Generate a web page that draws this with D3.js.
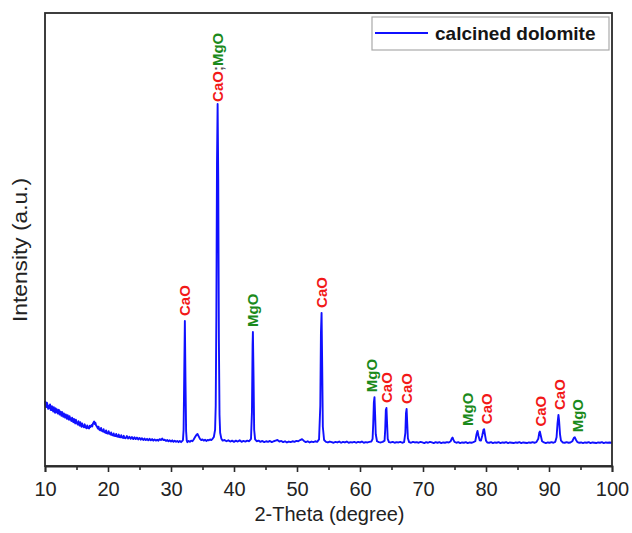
<!DOCTYPE html>
<html>
<head>
<meta charset="utf-8">
<script src="https://cdn.jsdelivr.net/npm/d3@7"></script>
<style>
  html, body { margin: 0; padding: 0; background: #fff; }
  svg { display: block; font-family: "Liberation Sans", Arial, sans-serif; }
</style>
</head>
<body>
<svg id="chart" width="632" height="533"></svg>
<script>
// XRD scan of calcined dolomite: [2-theta (deg), intensity (counts, a.u.)]
const scan = [
  [10.0,216],[10.1,200],[10.2,195],[10.3,210],[10.4,203],[10.5,189],[10.6,199],[10.7,192],[10.8,204],[10.9,186],
  [11.0,185],[11.1,198],[11.2,190],[11.3,180],[11.4,195],[11.5,184],[11.6,176],[11.7,191],[11.8,179],[11.9,187],
  [12.0,174],[12.2,186],[12.3,170],[12.4,181],[12.5,175],[12.6,166],[12.7,179],[12.8,172],[12.9,163],[13.0,174],
  [13.2,160],[13.3,171],[13.4,164],[13.5,156],[13.6,168],[13.7,159],[13.8,153],[13.9,165],[14.0,157],[14.2,149],
  [14.3,160],[14.4,152],[14.5,145],[14.6,156],[14.7,146],[14.8,141],[14.9,153],[15.0,144],[15.2,137],[15.3,148],
  [15.4,139],[15.5,134],[15.6,145],[15.7,136],[15.8,130],[15.9,141],[16.0,133],[16.2,128],[16.3,138],[16.4,129],
  [16.6,125],[16.7,134],[16.8,127],[17.0,124],[17.1,133],[17.2,129],[17.4,136],[17.5,131],[17.6,140],[17.8,147],
  [17.9,139],[18.0,143],[18.1,135],[18.2,132],[18.4,124],[18.5,130],[18.6,121],[18.8,118],[18.9,126],[19.0,117],
  [19.2,114],[19.3,122],[19.4,113],[19.6,110],[19.7,118],[19.8,109],[20.0,107],[20.1,115],[20.2,108],[20.4,104],
  [20.5,111],[20.6,103],[20.8,101],[20.9,108],[21.0,100],[21.2,99],[21.3,106],[21.4,98],[21.6,97],[21.7,104],
  [21.8,96],[22.0,95],[22.1,102],[22.2,95],[22.4,93],[22.5,100],[22.6,93],[22.8,92],[23.0,99],[23.2,91],
  [23.4,97],[23.6,90],[23.8,96],[24.0,89],[24.2,95],[24.4,89],[24.6,94],[24.8,88],[25.0,93],[25.2,87],
  [25.4,92],[25.6,86],[25.8,91],[26.0,86],[26.2,90],[26.4,85],[26.6,90],[26.8,85],[27.0,89],[27.2,84],
  [27.4,88],[27.6,84],[27.8,87],[28.0,84],[28.2,89],[28.4,86],[28.6,91],[28.8,86],[29.0,87],[29.2,83],
  [29.4,86],[29.6,82],[29.8,85],[30.0,81],[30.2,85],[30.4,80],[30.6,84],[30.8,80],[31.0,83],[31.2,79],
  [31.4,83],[31.6,79],[31.8,83],
  [31.9,86],[32.0,120],[32.1,300],[32.2,480],[32.3,280],[32.4,115],[32.5,84],
  [32.6,79],[32.8,83],[33.0,80],[33.2,84],[33.4,82],[33.6,88],[33.8,95],[34.0,102],[34.2,106],[34.4,98],
  [34.6,90],[34.8,86],[35.0,88],[35.2,84],[35.4,87],[35.6,83],[35.8,86],[36.0,85],[36.2,88],[36.4,86],
  [36.6,90],[36.8,96],[37.0,120],[37.1,200],[37.2,500],[37.3,1000],[37.4,1199],[37.5,950],[37.6,420],[37.7,170],
  [37.8,110],[38.0,90],[38.2,84],[38.5,86],[38.8,82],[39.1,85],[39.4,81],[39.7,84],[40.0,80],[40.3,84],
  [40.6,81],[40.9,85],[41.2,80],[41.5,83],[41.8,81],[42.1,84],[42.4,82],[42.7,90],[42.85,180],[42.95,400],
  [43.0,444],[43.1,300],[43.2,120],[43.35,88],[43.6,82],[43.9,84],[44.2,80],[44.5,83],[44.8,79],[45.1,82],
  [45.4,80],[45.7,83],[46.0,79],[46.3,82],[46.6,84],[46.9,86],[47.2,81],[47.5,83],[47.8,79],[48.1,82],
  [48.4,78],[48.7,81],[49.0,79],[49.3,82],[49.6,80],[49.9,83],[50.2,82],[50.5,86],[50.8,89],[51.1,83],
  [51.4,79],[51.7,82],[52.0,78],[52.3,81],[52.6,79],[52.9,82],[53.2,80],[53.5,88],[53.7,200],[53.8,440],
  [53.9,507],[54.0,330],[54.1,130],[54.3,86],[54.6,80],[54.9,78],[55.2,81],[55.5,79],[55.8,77],[56.1,80],
  [56.4,78],[56.7,81],[57.0,77],[57.3,80],[57.6,78],[57.9,81],[58.2,77],[58.5,79],[58.8,78],[59.1,80],
  [59.4,77],[59.7,80],[60.0,78],[60.3,81],[60.6,77],[60.9,79],[61.2,78],[61.5,80],[61.8,81],[62.0,90],
  [62.1,140],[62.2,210],[62.3,228],[62.4,170],[62.5,105],[62.7,82],[63.0,79],[63.3,78],[63.6,80],[63.9,84],
  [64.0,120],[64.1,185],[64.2,192],[64.3,140],[64.4,90],[64.6,79],[64.9,78],[65.2,80],[65.5,77],[65.8,79],
  [66.1,78],[66.4,80],[66.7,77],[67.0,79],[67.2,110],[67.3,175],[67.4,189],[67.5,140],[67.6,92],[67.8,79],
  [68.1,77],[68.4,80],[68.7,78],[69.0,79],[69.3,77],[69.6,80],[69.9,78],[70.2,76],[70.5,79],[70.8,77],
  [71.1,80],[71.4,78],[71.7,76],[72.0,79],[72.3,77],[72.6,79],[72.9,76],[73.2,78],[73.5,77],[73.8,79],
  [74.1,78],[74.4,82],[74.6,92],[74.7,94],[74.8,88],[75.0,80],[75.3,77],[75.6,79],[75.9,76],[76.2,78],
  [76.5,77],[76.8,79],[77.1,76],[77.4,78],[77.7,77],[78.0,79],[78.3,82],[78.5,105],[78.65,116],[78.8,100],
  [79.0,85],[79.2,84],[79.4,100],[79.6,120],[79.7,122],[79.85,102],[80.0,84],[80.2,78],[80.5,77],[80.8,79],
  [81.1,76],[81.4,78],[81.7,77],[82.0,79],[82.3,76],[82.6,78],[82.9,77],[83.2,79],[83.5,76],[83.8,78],
  [84.1,77],[84.4,76],[84.7,78],[85.0,77],[85.3,79],[85.6,76],[85.9,78],[86.2,77],[86.5,76],[86.8,78],
  [87.1,77],[87.4,79],[87.7,77],[88.0,79],[88.3,90],[88.45,110],[88.55,114],[88.7,100],[88.9,82],[89.2,78],
  [89.5,76],[89.8,78],[90.1,77],[90.4,79],[90.7,77],[91.0,80],[91.2,95],[91.35,140],[91.5,169],[91.6,150],
  [91.75,105],[91.9,84],[92.2,78],[92.5,77],[92.8,79],[93.1,77],[93.4,78],[93.7,82],[93.95,93],[94.1,95],
  [94.25,88],[94.5,79],[94.8,77],[95.1,78],[95.4,76],[95.7,78],[96.0,77],[96.3,79],[96.6,76],[96.9,78],
  [97.2,77],[97.5,76],[97.8,78],[98.1,77],[98.4,79],[98.7,76],[99.0,78],[99.3,77],[99.6,78],[100.0,77]
];

// Indexed reflections: peak position (2-theta), peak intensity, phase(s)
const peakAngles = [32.2, 37.4, 43.0, 53.9, 62.3, 64.2, 67.4, 78.65, 79.7, 88.55, 91.5, 94.1];
const peakHeights = [480, 1199, 444, 507, 228, 192, 189, 116, 122, 114, 169, 95];
const peakPhases = [["CaO"], ["CaO", "MgO"], ["MgO"], ["CaO"], ["MgO"], ["CaO"], ["CaO"],
                    ["MgO"], ["CaO"], ["CaO"], ["CaO"], ["MgO"]];

const xTicks = [10, 20, 30, 40, 50, 60, 70, 80, 90, 100];
const xMinorTicks = [15, 25, 35, 45, 55, 65, 75, 85, 95];
const seriesName = "calcined dolomite";

// ---- layout ----
const plot = { left: 45, right: 612, top: 13, bottom: 466 };
const phaseColor = { CaO: "#f21818", MgO: "#1b8a1b" };
// sideways nudges (px) so neighbouring labels don't collide
const labelShiftX = { 7: -10, 8: 2, 9: 1, 10: 1, 11: 3, 4: -3 };

const svg = d3.select("#chart");

const x = d3.scaleLinear().domain([10, 100]).range([plot.left, plot.right]);
const y = d3.scaleLinear().domain([0, 1500]).range([plot.bottom, plot.top]);

// diffraction pattern
const line = d3.line().x(d => x(d[0])).y(d => y(d[1]));
svg.append("path")
  .datum(scan)
  .attr("d", line)
  .attr("fill", "none")
  .attr("stroke", "#1010ff")
  .attr("stroke-width", 1.9)
  .attr("stroke-linejoin", "round");

// frame
svg.append("rect")
  .attr("x", plot.left).attr("y", plot.top)
  .attr("width", plot.right - plot.left).attr("height", plot.bottom - plot.top)
  .attr("fill", "none").attr("stroke", "#2a2a2a").attr("stroke-width", 1.8);

// bottom axis
const xAxis = d3.axisBottom(x).tickValues(xTicks).tickSize(6).tickPadding(10).tickFormat(d3.format("d"));
const gx = svg.append("g").attr("transform", `translate(0,${plot.bottom})`).call(xAxis);
gx.select(".domain").attr("stroke", "#2a2a2a").attr("stroke-width", 1.8);
gx.selectAll(".tick line").attr("stroke", "#2a2a2a").attr("stroke-width", 1.6);
gx.selectAll(".tick text")
  .attr("font-size", 20).attr("fill", "#222")
  .attr("font-family", "Liberation Sans, Arial, sans-serif");

const xMinor = d3.axisBottom(x).tickValues(xMinorTicks).tickSize(4).tickFormat("");
const gxm = svg.append("g").attr("transform", `translate(0,${plot.bottom})`).call(xMinor);
gxm.select(".domain").remove();
gxm.selectAll(".tick line").attr("stroke", "#2a2a2a").attr("stroke-width", 1.6);

// axis titles
svg.append("text")
  .attr("x", (plot.left + plot.right) / 2 + 1).attr("y", 521)
  .attr("text-anchor", "middle").attr("font-size", 20).attr("fill", "#222")
  .text("2-Theta (degree)");

svg.append("text")
  .attr("transform", `translate(27,250) rotate(-90)`)
  .attr("text-anchor", "middle").attr("font-size", 20).attr("fill", "#222")
  .attr("textLength", 144).attr("lengthAdjust", "spacingAndGlyphs")
  .text("Intensity (a.u.)");

// peak labels (rotated, sitting just above each reflection)
peakAngles.forEach((a, i) => {
  const px = x(a) + (labelShiftX[i] || 0);
  const py = y(peakHeights[i]) - (i === 1 ? 2 : 5);
  const t = svg.append("text")
    .attr("transform", `translate(${px},${py}) rotate(-90)`)
    .attr("dy", "0.36em")
    .attr("font-size", 15).attr("font-weight", "bold");
  peakPhases[i].forEach((p, k) => {
    if (k > 0) t.append("tspan").attr("fill", "#555").text(";");
    t.append("tspan").attr("fill", phaseColor[p]).text(p);
  });
});

// legend
const lg = svg.append("g");
lg.append("rect")
  .attr("x", 372).attr("y", 17).attr("width", 237).attr("height", 33)
  .attr("fill", "#fff").attr("stroke", "#aaa").attr("stroke-width", 1.2);
lg.append("line")
  .attr("x1", 375).attr("x2", 428).attr("y1", 33).attr("y2", 33)
  .attr("stroke", "#1010ff").attr("stroke-width", 2);
lg.append("text")
  .attr("x", 435).attr("y", 40)
  .attr("font-size", 19).attr("font-weight", "bold").attr("fill", "#151515")
  .text(seriesName);
</script>
</body>
</html>
